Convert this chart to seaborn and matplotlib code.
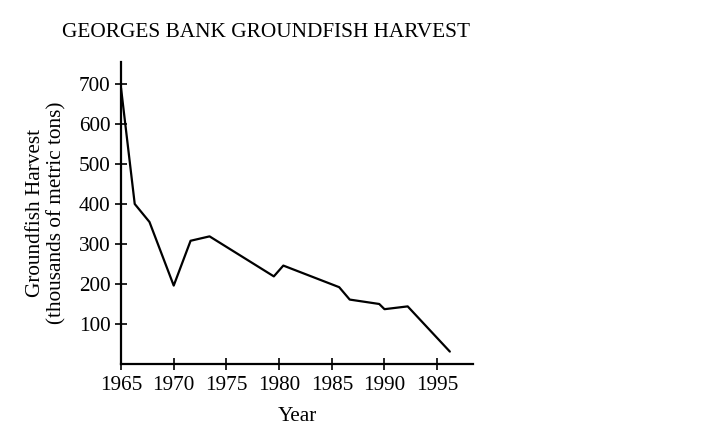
import matplotlib
matplotlib.use("Agg")
import matplotlib.pyplot as plt
import seaborn as sns
import pandas as pd

# values
years = [1965, 1966.3, 1967.7, 1970, 1971.6, 1973.4, 1979.5, 1980.4,
         1985.7, 1986.7, 1989.5, 1990, 1992.2, 1996.2]
harvest = [690, 400, 355, 196, 308, 319, 219, 246,
           192, 161, 150, 137, 144, 31]
xticks = [1965, 1970, 1975, 1980, 1985, 1990, 1995]
yticks = [100, 200, 300, 400, 500, 600, 700]

sns.set_style("ticks")
plt.rcParams['font.family'] = ['Liberation Serif', 'DejaVu Serif']
plt.rcParams['text.color'] = 'black'
plt.rcParams['axes.labelcolor'] = 'black'

df = pd.DataFrame({"Year": years, "Harvest": harvest})

fig = plt.figure(figsize=(7.14, 4.34), dpi=100)
ax = fig.add_axes([0.1695, 0.1613, 0.493, 0.696])

sns.lineplot(data=df, x="Year", y="Harvest", color="black", linewidth=1.6,
             ax=ax, sort=False)

ax.set_xlim(1965, 1998.4)
ax.set_ylim(0, 755)
ax.set_xticks(xticks)
ax.set_yticks(yticks)
ax.tick_params(direction="inout", length=8, width=1.2, labelsize=15.3,
               colors="black")
ax.tick_params(axis="x", pad=5)
for s in ["top", "right"]:
    ax.spines[s].set_visible(False)
for s in ["left", "bottom"]:
    ax.spines[s].set_linewidth(1.6)
    ax.spines[s].set_color("black")

ax.set_xlabel("Year", fontsize=15.3, labelpad=8)
ax.set_ylabel("Groundfish Harvest\n(thousands of metric tons)", fontsize=15.3,
              labelpad=9, linespacing=1.1)

fig.text(0.3725, 0.925, "GEORGES BANK GROUNDFISH HARVEST", ha="center",
         va="center", fontsize=15.3)

fig.savefig("out.png", dpi=100)
